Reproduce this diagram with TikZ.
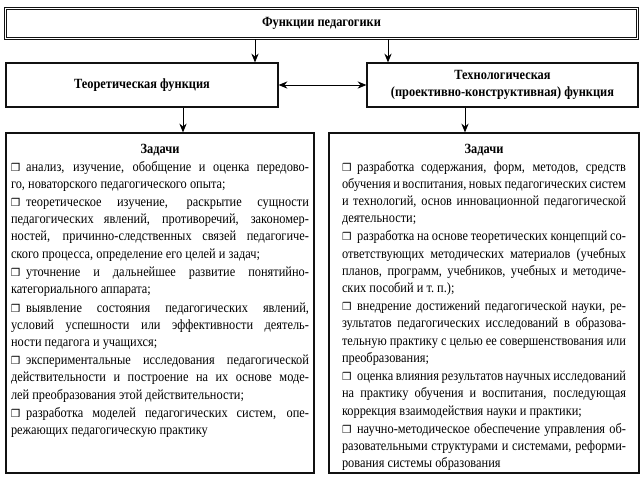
\documentclass[tikz,border=0pt]{standalone}
\usepackage{fontspec}
\setmainfont{Liberation Serif}[FakeStretch=0.88]
\newfontfamily\znakfont{DejaVu Sans}
\usetikzlibrary{arrows.meta, positioning, shadows}
\definecolor{ramka}{HTML}{111111}
\definecolor{ten}{HTML}{333333}
\newcommand{\pkt}{{\znakfont\fontsize{7.5}{7.5}\selectfont\char"2752}\hspace{0.4em}}
\tikzset{
  % рамка с тенью
  ramka/.style={draw=ramka, line width=0.8pt, fill=white,
    drop shadow={shadow xshift=0.7pt, shadow yshift=-0.7pt, opacity=1, fill=ten}},
  % верхний блок (двойная рамка)
  glavn/.style={ramka, double=white, double distance=1.2pt, line width=0.8pt,
    minimum width=15.8cm, minimum height=0.75cm, font=\bfseries},
  % блоки функций
  funk/.style={ramka, minimum width=6.8cm, minimum height=1.1cm, align=center,
    font=\bfseries, inner sep=2pt},
  % блоки задач
  zadbox/.style={ramka, minimum height=8.5cm},
  zag/.style={font=\bfseries, inner sep=0pt},
  spisok/.style={align=justify, inner sep=0pt, font=\fontsize{10}{12.2}\selectfont,
    execute at begin node={\setlength{\parskip}{0.9pt}\hyphenpenalty=10000}},
  % стрелки
  strelka/.style={-{Stealth[length=2.2mm, width=1.8mm]}, line width=0.7pt},
  dvustr/.style={{Stealth[length=2.2mm, width=1.8mm]}-{Stealth[length=2.2mm, width=1.8mm]}, line width=0.7pt},
}
\begin{document}
\begin{tikzpicture}
  \useasboundingbox (0,0) rectangle (16.075,-12);
  % верх
  \node[glavn] (fp) at (8.0375,-0.5875) {Функции педагогики};
  \node[funk] (teor) at (3.55,-2.125) {Теоретическая функция};
  \node[funk, minimum width=6.775cm] (tech) at (12.5625,-2.125)
    {Технологическая\\(проективно-конструктивная) функция};
  \draw[strelka] ([xshift=-1.6625cm]fp.south) -- ([xshift=-1.6625cm]fp.south |- teor.north);
  \draw[strelka] ([xshift=1.6625cm]fp.south) -- ([xshift=1.6625cm]fp.south |- tech.north);
  \draw[dvustr] (teor.east) -- (tech.west);
  % блоки задач
  \node[zadbox, minimum width=7.7cm] (boxL) at (4.0,-7.575) {};
  \node[zadbox, minimum width=7.75cm] (boxR) at (12.1,-7.575) {};
  \draw[strelka] ([xshift=1.025cm]teor.south) -- ([xshift=1.025cm]teor.south |- boxL.north);
  \draw[strelka] ([xshift=-0.9375cm]tech.south) -- ([xshift=-0.9375cm]tech.south |- boxR.north);
  \node[zag, below=0.28cm of boxL.north] (zagL) {Задачи};
  \node[zag, below=0.28cm of boxR.north] (zagR) {Задачи};
  \node[spisok, text width=7.45cm, below=0.12cm of zagL] (spL) {%
    \pkt анализ, изучение, обобщение и оценка передово-\linebreak го, новаторского педагогического опыта;\par
    \pkt теоретическое изучение, раскрытие сущности\linebreak педагогических явлений, противоречий, закономер-\linebreak ностей, причинно-следственных связей педагогиче-\linebreak ского процесса, определение его целей и задач;\par
    \pkt уточнение и дальнейшее развитие понятийно-\linebreak категориального аппарата;\par
    \pkt выявление состояния педагогических явлений,\linebreak условий успешности или эффективности деятель-\linebreak ности педагога и учащихся;\par
    \pkt экспериментальные исследования педагогической\linebreak действительности и построение на их основе моде-\linebreak лей преобразования этой действительности;\par
    \pkt разработка моделей педагогических систем, опе-\linebreak режающих педагогическую практику};
  \node[spisok, text width=7.1cm, below=0.12cm of zagR] (spR) {%
    \pkt разработка содержания, форм, методов, средств\linebreak обучения и воспитания, новых педагогических систем\linebreak и технологий, основ инновационной педагогической\linebreak деятельности;\par
    \pkt разработка на основе теоретических концепций со-\linebreak ответствующих методических материалов (учебных\linebreak планов, программ, учебников, учебных и методиче-\linebreak ских пособий и т.~п.);\par
    \pkt внедрение достижений педагогической науки, ре-\linebreak зультатов педагогических исследований в образова-\linebreak тельную практику с целью ее совершенствования или\linebreak преобразования;\par
    \pkt оценка влияния результатов научных исследований\linebreak на практику обучения и воспитания, последующая\linebreak коррекция взаимодействия науки и практики;\par
    \pkt научно-методическое обеспечение управления об-\linebreak разовательными структурами и системами, реформи-\linebreak рования системы образования};
\end{tikzpicture}
\end{document}
